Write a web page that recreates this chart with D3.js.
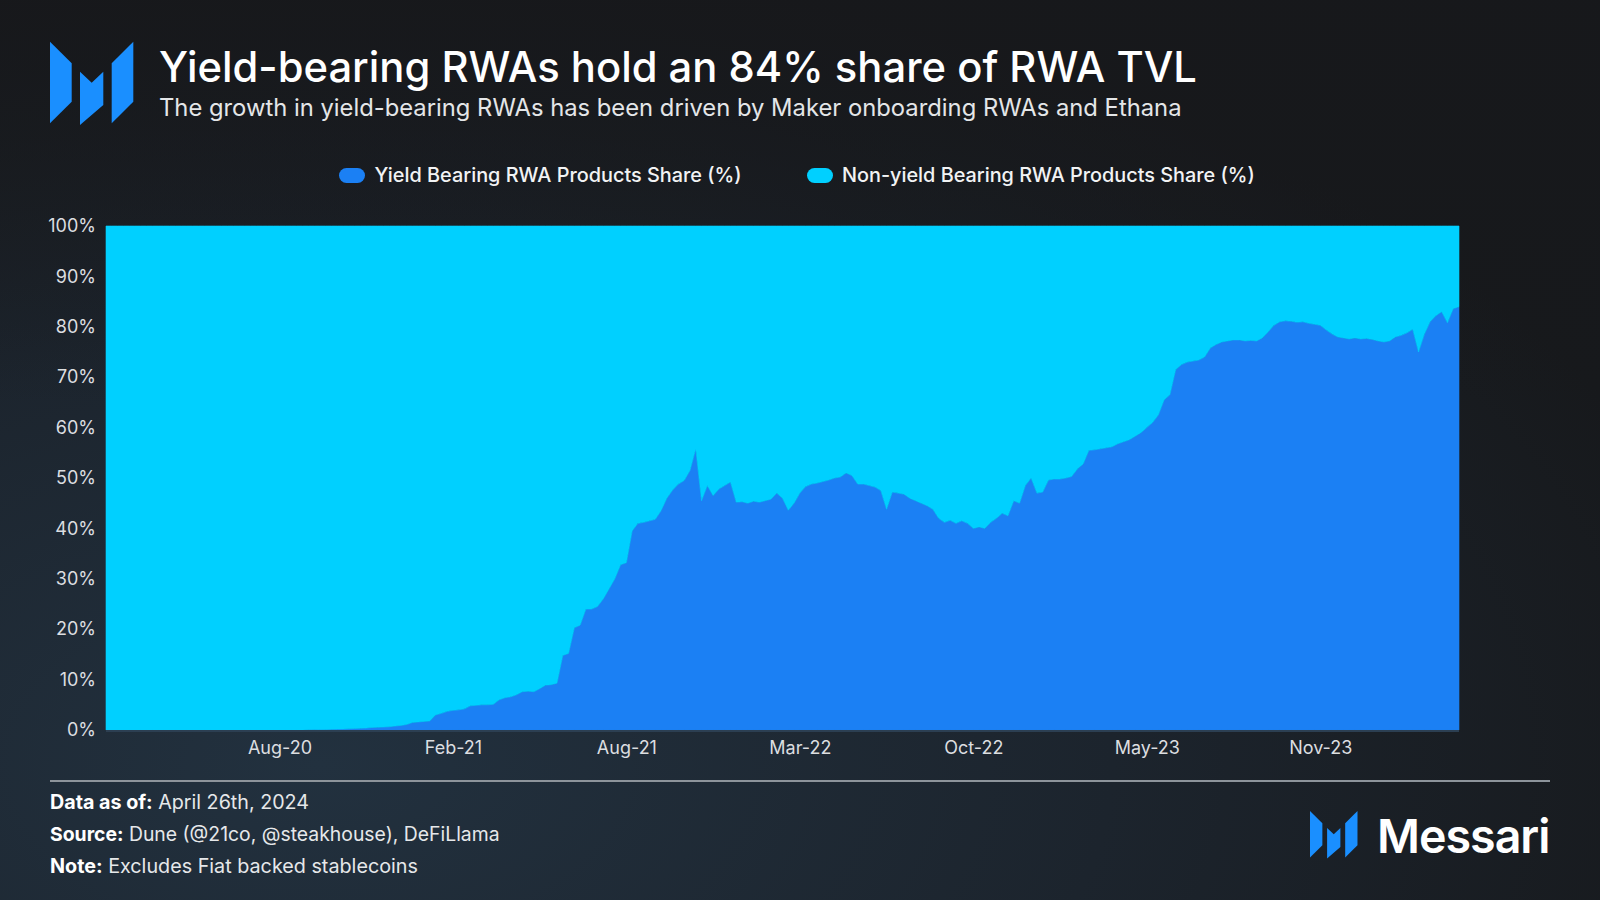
<!DOCTYPE html>
<html><head><meta charset="utf-8">
<script src="https://cdn.jsdelivr.net/npm/d3@7"></script>
<style>html,body{margin:0;padding:0;background:#181b1f;} svg{display:block;}</style>
</head><body>
<svg id="chart" width="1600" height="900"></svg>
<script>
// ---------- DATA ----------
const titleText = "Yield-bearing RWAs hold an 84% share of RWA TVL";
const subtitleText = "The growth in yield-bearing RWAs has been driven by Maker onboarding RWAs and Ethana";
const seriesNames = ["Yield Bearing RWA Products Share (%)", "Non-yield Bearing RWA Products Share (%)"];
const seriesKeys = ["yield", "nonYield"];
const xTickLabels = ["Aug-20", "Feb-21", "Aug-21", "Mar-22", "Oct-22", "May-23", "Nov-23"];
const tickEvery = 30; // one label every 30 samples
const yTickValues = [0, 10, 20, 30, 40, 50, 60, 70, 80, 90, 100];
// Yield-bearing share (%) sampled at regular intervals, Feb-2020 .. Apr-2024
const yieldShare = [
  0,0,0,0,0,0,0,0,0,0,0,0,0,0,0,0,0,0,0,0,0,0,0,0,0,0,0,0,0,0,0,0,0,0,0,
  0.05,0.08,0.1,0.12,0.15,0.18,0.2,0.25,0.3,0.35,0.4,0.5,0.55,0.6,0.65,0.8,0.9,1.1,1.5,1.6,1.7,1.8,
  3.0,3.3,3.7,3.9,4.0,4.2,4.8,4.9,5.0,5.0,5.1,6.0,6.4,6.6,7.0,7.6,7.7,7.6,8.2,8.9,9.0,9.3,
  14.8,15.2,20.3,20.8,24.0,24.0,24.5,26.0,28.0,30.0,32.8,33.2,39.5,41.0,41.2,41.5,41.8,43.5,46.0,47.6,48.8,49.5,51.5,
  55.8,45.5,48.5,46.5,47.8,48.5,49.2,45.2,45.3,45.0,45.4,45.2,45.5,45.8,47.0,46.0,43.6,45.0,47.0,48.3,48.8,49.0,49.3,49.6,50.0,50.2,51.0,50.5,48.8,
  48.8,48.5,48.2,47.5,43.8,47.2,47.0,46.8,46.0,45.5,45.0,44.5,43.8,42.0,41.2,41.6,41.0,41.5,41.0,40.0,40.3,40.0,41.2,42.0,43.0,42.5,45.5,45.0,48.5,50.0,
  47.0,47.2,49.6,49.8,49.8,50.0,50.3,51.8,52.8,55.5,55.6,55.8,56.0,56.2,56.8,57.2,57.6,58.3,59.0,60.0,61.0,62.5,65.5,66.5,71.5,72.5,73.0,73.2,73.4,74.0,
  75.8,76.5,77.0,77.2,77.4,77.4,77.2,77.3,77.2,77.8,79.0,80.3,81.0,81.2,81.1,80.9,81.0,80.7,80.5,80.3,79.4,78.6,78.0,77.8,77.6,77.8,77.6,77.7,77.5,77.2,
  77.0,77.2,78.0,78.3,78.8,79.5,75.0,78.5,81.0,82.2,83.0,80.8,83.6,84.0
];
const footerRows = [
  ["Data as of:", " April 26th, 2024"],
  ["Source:", " Dune (@21co, @steakhouse), DeFiLlama"],
  ["Note:", " Excludes Fiat backed stablecoins"]
];
const brandName = "Messari";

// ---------- STYLE ----------
const colors = { yield: "#1b80f4", nonYield: "#00d0ff", logo: "#1a8fff" };
const FONT = "Inter, 'Liberation Sans', Arial, sans-serif";

const svg = d3.select("#chart");
const W = 1600, H = 900;
const plot = { left: 106, right: 1459, top: 226, bottom: 730 };

// background
const defs = svg.append("defs");
const bg = defs.append("radialGradient").attr("id", "bgGlow")
  .attr("cx", "0.2").attr("cy", "0.85").attr("r", "0.9");
bg.append("stop").attr("offset", "0").attr("stop-color", "#22313f");
bg.append("stop").attr("offset", "0.55").attr("stop-color", "#1c242d");
bg.append("stop").attr("offset", "1").attr("stop-color", "#17191c");
svg.append("rect").attr("width", W).attr("height", H).attr("fill", "url(#bgGlow)");
const bg2 = defs.append("linearGradient").attr("id", "bgTop").attr("x1", 0).attr("y1", 0).attr("x2", 0).attr("y2", 1);
bg2.append("stop").attr("offset", "0").attr("stop-color", "#17181b").attr("stop-opacity", 0.85);
bg2.append("stop").attr("offset", "0.45").attr("stop-color", "#17181b").attr("stop-opacity", 0);
svg.append("rect").attr("width", W).attr("height", H).attr("fill", "url(#bgTop)");

function fitWidth(sel, target) {
  const w = sel.node().getComputedTextLength();
  const fs = parseFloat(sel.attr("font-size"));
  if (w > 0) sel.attr("font-size", (fs * target / w).toFixed(2));
  return sel;
}

// logo
const logoPieces = [
  [[0,0],[21.7,21.6],[21.7,60],[0,81.6]],
  [[30,30],[41.7,41],[53.3,30],[53.3,63.3],[30,83.3]],
  [[61.7,21.6],[83.3,0],[83.3,60],[61.7,81.6]]
];
function drawLogo(tx, ty, s) {
  const g = svg.append("g").attr("transform", `translate(${tx},${ty}) scale(${s})`);
  g.selectAll("polygon").data(logoPieces).join("polygon")
    .attr("points", d => d.map(p => p.join(",")).join(" "))
    .attr("fill", colors.logo);
}
drawLogo(50, 41.7, 1);

// titles
fitWidth(svg.append("text").attr("x", 159).attr("y", 82).attr("fill", "#ffffff")
  .attr("font-family", FONT).attr("font-weight", 500).attr("font-size", 44).text(titleText), 1038);
fitWidth(svg.append("text").attr("x", 159).attr("y", 116).attr("fill", "#e4e6e8")
  .attr("font-family", FONT).attr("font-weight", 400).attr("font-size", 23).text(subtitleText), 1023);

// legend
const legendPos = [{ mx: 339, tx: 374.5, w: 367.5 }, { mx: 807, tx: 842, w: 413 }];
seriesNames.forEach((name, k) => {
  svg.append("rect").attr("x", legendPos[k].mx).attr("y", 168).attr("width", 26).attr("height", 15)
    .attr("rx", 7.5).attr("fill", colors[seriesKeys[k]]);
  fitWidth(svg.append("text").attr("x", legendPos[k].tx).attr("y", 182).attr("fill", "#f2f3f4")
    .attr("font-family", FONT).attr("font-weight", 500).attr("font-size", 20).text(name), legendPos[k].w);
});

// scales
const x = d3.scaleLinear().domain([0, yieldShare.length - 1]).range([plot.left, plot.right]);
const y = d3.scaleLinear().domain([0, 100]).range([plot.bottom, plot.top]);

const rows = yieldShare.map((v, i) => ({ i, yield: v, nonYield: 100 - v }));
const stacked = d3.stack().keys(seriesKeys)(rows);
const area = d3.area().x(d => x(d.data.i)).y0(d => y(d[0])).y1(d => y(d[1])).curve(d3.curveLinear);

svg.append("g").selectAll("path").data(stacked).join("path")
  .attr("d", area).attr("fill", d => colors[d.key]).attr("stroke", d => colors[d.key]).attr("stroke-width", 0.6);

// baseline
svg.append("line").attr("x1", plot.left).attr("x2", plot.right).attr("y1", plot.bottom + 1).attr("y2", plot.bottom + 1)
  .attr("stroke", "#2c3f52").attr("stroke-width", 2);

// axes
const yAxis = svg.append("g").attr("transform", `translate(${plot.left},0)`)
  .call(d3.axisLeft(y).tickValues(yTickValues).tickFormat(d => d + "%").tickSize(0).tickPadding(10));
yAxis.select(".domain").remove();
yAxis.selectAll("text").attr("font-family", FONT).attr("font-size", 18).attr("fill", "#dcdee0");

const xTickIdx = xTickLabels.map((_, k) => (k + 1) * tickEvery);
const xAxis = svg.append("g").attr("transform", `translate(0,${plot.bottom})`)
  .call(d3.axisBottom(x).tickValues(xTickIdx).tickFormat((d, k) => xTickLabels[k]).tickSize(0).tickPadding(11));
xAxis.select(".domain").remove();
xAxis.selectAll("text").attr("font-family", FONT).attr("font-size", 18).attr("fill", "#dcdee0");

// separator
svg.append("line").attr("x1", 50).attr("x2", 1550).attr("y1", 781).attr("y2", 781)
  .attr("stroke", "#8d949b").attr("stroke-width", 2);

// footer
const footerWidths = [259, 450, 368];
footerRows.forEach((r, k) => {
  const t = svg.append("text").attr("x", 50).attr("y", 809 + k * 32).attr("fill", "#e6e8ea")
    .attr("font-family", FONT).attr("font-size", 20);
  t.append("tspan").attr("font-weight", 700).attr("fill", "#ffffff").text(r[0]);
  t.append("tspan").attr("font-weight", 400).text(r[1]);
  fitWidth(t, footerWidths[k]);
});

// brand
drawLogo(1310, 811, 0.57);
fitWidth(svg.append("text").attr("x", 1377).attr("y", 853).attr("fill", "#ffffff")
  .attr("font-family", FONT).attr("font-weight", 600).attr("font-size", 50).attr("letter-spacing", -1)
  .text(brandName), 173);
</script>
</body></html>
